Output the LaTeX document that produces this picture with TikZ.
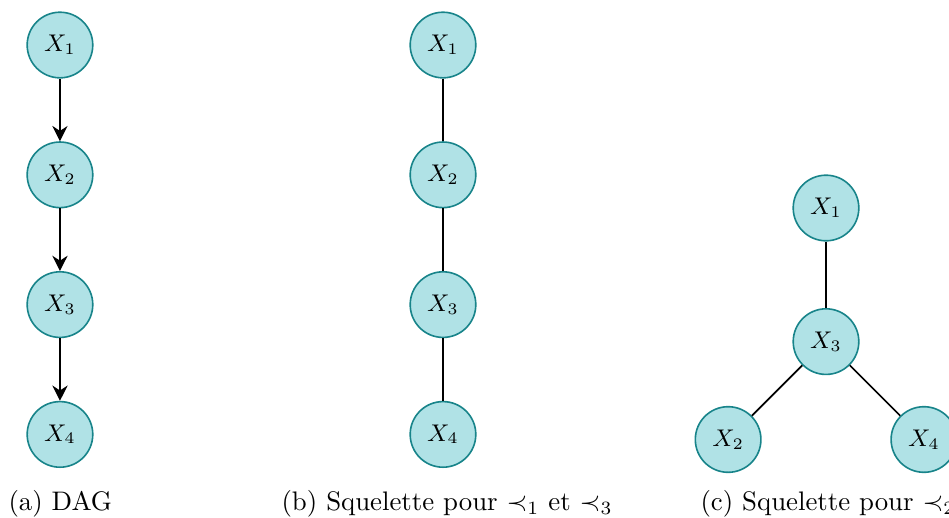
\documentclass[tikz,border=0pt]{standalone}
\usepackage{amsmath,amssymb}
\usepackage{xcolor}
\usepackage{tikz}
\usetikzlibrary{arrows.meta,positioning}
\definecolor{varfill}{RGB}{176,226,230}
\definecolor{varline}{RGB}{24,132,138}
\tikzset{
  var/.style={circle, draw=varline, fill=varfill, line width=0.6pt, minimum size=0.86cm, inner sep=0pt, font=\small},
  arc/.style={-{Stealth[length=2mm, width=2mm]}, semithick},
  skel/.style={semithick},
  legende/.style={anchor=base west, inner sep=0pt}
}

\begin{document}
\begin{tikzpicture}[node distance=.82cm]
        \useasboundingbox (0,0) rectangle (12.438,-6.776);
        % (a) DAG
        \node[var] (a1) at (0.786,-0.590) {$X_1$};
        \node[var, below=of a1] (a2) {$X_2$};
        \node[var, below=of a2] (a3) {$X_3$};
        \node[var, below=of a3] (a4) {$X_4$};
        \draw[arc] (a1) -- (a2);
        \draw[arc] (a2) -- (a3);
        \draw[arc] (a3) -- (a4);
        % (b) squelette
        \node[var] (b1) at (5.806,-0.590) {$X_1$};
        \node[var, below=of b1] (b2) {$X_2$};
        \node[var, below=of b2] (b3) {$X_3$};
        \node[var, below=of b3] (b4) {$X_4$};
        \draw[skel] (b1) -- (b2);
        \draw[skel] (b2) -- (b3);
        \draw[skel] (b3) -- (b4);
        % (c) squelette
        \node[var] (c1) at (10.826,-2.726) {$X_1$};
        \node[var, below=.87cm of c1] (c3) {$X_3$};
        \node[var, below left=.66cm and .66cm of c3] (c2) {$X_2$};
        \node[var, below right=.66cm and .66cm of c3] (c4) {$X_4$};
        \draw[skel] (c1) -- (c3);
        \draw[skel] (c3) -- (c2);
        \draw[skel] (c3) -- (c4);
        % legendes
        \node[legende] (capa) at (0.105,-6.69) {(a) DAG};
        \node[legende] (capb) at (3.683,-6.69) {(b) Squelette pour $\prec_1$ et $\prec_3$};
        \node[legende] (capc) at (9.174,-6.69) {(c) Squelette pour $\prec_2$};
      \end{tikzpicture}
\end{document}
